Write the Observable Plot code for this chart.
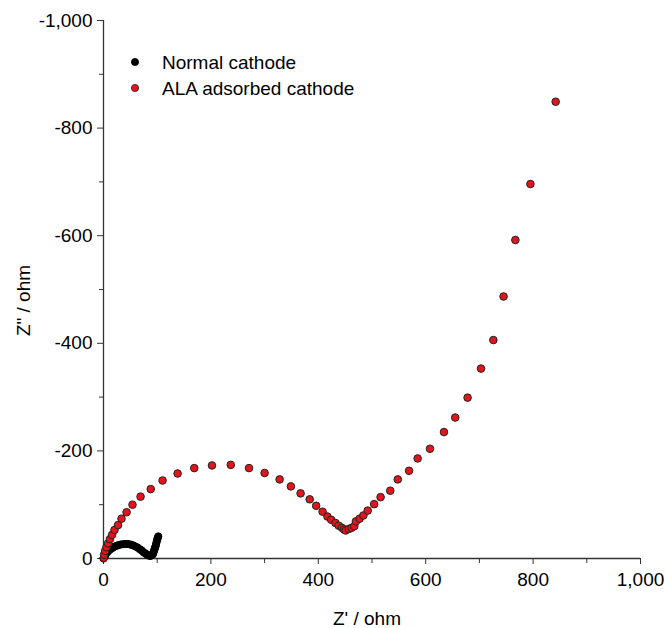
<!DOCTYPE html>
<html>
<head>
<meta charset="utf-8">
<script src="https://cdn.jsdelivr.net/npm/d3@7"></script>
<script src="https://cdn.jsdelivr.net/npm/@observablehq/plot@0.6"></script>
<style>
  html, body { margin: 0; padding: 0; background: #fff; }
  #chart { width: 665px; height: 628px; }
</style>
</head>
<body>
<div id="chart"></div>
<script>
// Normal cathode: Z' (ohm) and Z'' (ohm)
const normalZre = [0, 1, 2, 3, 4, 5, 7, 9, 11, 14, 17, 20, 24, 28, 32, 36, 40, 44, 48, 52, 56, 60, 64, 68, 71, 74, 77, 80, 83, 86, 88, 90, 92, 93, 94, 95, 96, 97, 98, 99, 100, 101, 102];
const normalZim = [0, -2, -4, -6, -8, -10, -12, -14, -16, -18, -20, -22, -23.5, -25, -26, -26.5, -27, -27, -26.5, -25.5, -24, -22, -20, -17, -15, -12, -10, -8, -6, -5, -5, -6, -8, -11, -14, -17, -20, -23, -27, -31, -35, -38, -41];

// ALA adsorbed cathode: Z' (ohm) and Z'' (ohm)
const alaZre = [0.5, 1, 3, 5.5, 8.5, 12, 16, 20.5, 27, 33.5, 43, 54, 69, 88, 110, 138, 169, 202, 237, 271, 300, 328, 349, 367, 384, 396, 408, 417, 424, 432, 438, 444, 448, 451, 457, 462, 467, 470, 477, 484, 492, 504, 516, 534, 548, 569, 585, 608, 634, 655, 678, 703, 726, 745, 767, 795, 842];
const alaZim = [-1, -7, -14, -21, -28, -36, -44, -53, -62, -74, -86, -100, -115, -129, -145, -158, -168, -173, -174, -168, -159, -147, -134, -121, -110, -98, -87, -78, -72, -66, -61, -57, -54, -52, -55, -57, -60, -69, -74, -80, -89, -101, -114, -126, -147, -163, -186, -204, -235, -262, -299, -353, -406, -487, -592, -696, -849];

const xMajor = [0, 200, 400, 600, 800, 1000];
const xMinor = [100, 300, 500, 700, 900];
const yMajor = [0, -200, -400, -600, -800, -1000];
const yMinor = [-100, -300, -500, -700, -900];

const seriesNames = ["Normal cathode", "ALA adsorbed cathode"];
const seriesColors = ["#000000", "#e3141c"];

const normal = normalZre.map((x, i) => ({x, y: normalZim[i]}));
const ala = alaZre.map((x, i) => ({x, y: alaZim[i]}));

const fmt = d => (d < 0 ? "-" : "") + d3.format(",")(Math.abs(d));
const FONT = "'Liberation Sans', Arial, sans-serif";
const FS = 19;
const AX = "#333";

const plot = Plot.plot({
  width: 665,
  height: 628,
  marginLeft: 103,
  marginRight: 25,
  marginTop: 20,
  marginBottom: 70,
  style: {fontFamily: FONT, fontSize: FS + "px", color: "#000", background: "#fff"},
  x: {domain: [0, 1000]},
  y: {domain: [0, -1000]},
  marks: [
    Plot.ruleX([0], {stroke: AX, strokeWidth: 1.3}),
    Plot.ruleY([0], {stroke: AX, strokeWidth: 1.3}),
    Plot.axisX({ticks: xMajor, tickSize: 6, tickPadding: 8, tickFormat: fmt, label: null, fontSize: FS, stroke: AX, fill: "#000"}),
    Plot.axisX({ticks: xMinor, tickSize: 5, tickFormat: () => "", label: null, stroke: AX}),
    Plot.axisY({ticks: yMajor, tickSize: 6, tickPadding: 5, tickFormat: fmt, label: null, fontSize: FS, stroke: AX, fill: "#000"}),
    Plot.axisY({ticks: yMinor, tickSize: 4, tickFormat: () => "", label: null, stroke: AX}),
    Plot.dot(normal, {x: "x", y: "y", r: 3.6, fill: seriesColors[0], stroke: "#000", strokeWidth: 1}),
    Plot.dot(ala, {x: "x", y: "y", r: 3.8, fill: seriesColors[1], stroke: "#222", strokeWidth: 1}),
    Plot.text(["Z' / ohm"], {frameAnchor: "bottom", dx: -5, dy: 60, fontSize: FS, fill: "#000", textAnchor: "middle", lineAnchor: "middle"}),
    Plot.text(['Z" / ohm'], {frameAnchor: "left", dx: -80, dy: 11, rotate: -90, fontSize: FS, fill: "#000", textAnchor: "middle", lineAnchor: "middle"})
  ]
});

// Legend
const svg = d3.select(plot);
const lg = svg.append("g").attr("font-family", FONT).attr("font-size", FS).attr("text-anchor", "start");
seriesNames.forEach((name, i) => {
  const cy = 62 + i * 26;
  lg.append("circle").attr("cx", 135).attr("cy", cy).attr("r", 3.6)
    .attr("fill", seriesColors[i]).attr("stroke", i === 0 ? "#000" : "#222").attr("stroke-width", 0.8);
  lg.append("text").attr("x", 162).attr("y", cy).attr("dy", "0.35em")
    .attr("text-anchor", "start").attr("fill", "#000").text(name);
});

document.getElementById("chart").appendChild(plot);
</script>
</body>
</html>
